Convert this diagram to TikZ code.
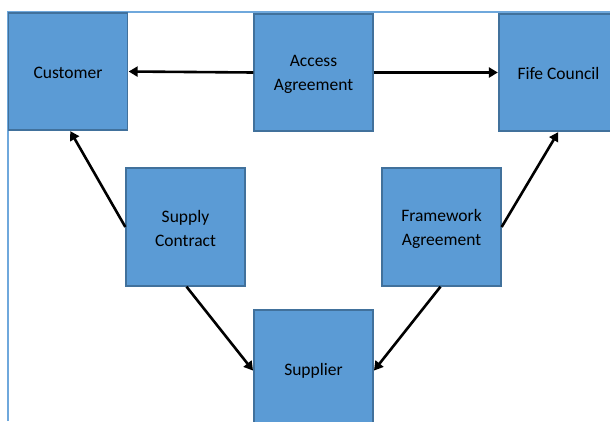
\documentclass[tikz,border=0pt]{standalone}
\usepackage{fontspec}
\setmainfont{Carlito}
\usetikzlibrary{arrows.meta}
\definecolor{boxfill}{HTML}{5B9BD5}
\definecolor{boxline}{HTML}{41719C}
\definecolor{frameline}{HTML}{6FA8DC}
\newcommand{\topstrut}{\rule{0pt}{15pt}}
\tikzset{
  blk/.style={draw=boxline, line width=1.3pt, fill=boxfill, inner sep=0pt,
    minimum width=119pt, minimum height=117pt, align=center,
    font=\fontsize{17.5pt}{24pt}\selectfont, text=black},
  link/.style={line width=2.6pt, -{Triangle[length=9pt,width=10pt]}, shorten >=0.5pt}
}
\begin{document}
\begin{tikzpicture}[x=1pt,y=-1pt]
\useasboundingbox (0,0) rectangle (610,421);
\draw[frameline, line width=2pt] (7.5,421) -- (7.5,12) -- (612,12);
\node[blk] (cust) at (68,71.5) {\topstrut Customer};
\node[blk] (acc) at (313.5,72.5) {\topstrut Access\\Agreement};
\node[blk] (fife) at (558.5,72.5) {\topstrut Fife Council};
\node[blk, minimum height=118pt] (supc) at (185.5,227) {\topstrut Supply\\Contract};
\node[blk, minimum height=118pt] (fw) at (441.5,227) {\topstrut Framework\\Agreement};
\node[blk, minimum height=118pt] (supp) at (313.5,369) {\topstrut Supplier};
\draw[link] (acc.west) -- (cust.east);
\draw[link] (acc.east) -- (fife.west);
\draw[link] (supc.west) -- ([xshift=2pt]cust.south);
\draw[link] (fw.east) -- (fife.south);
\draw[link] ([xshift=1pt]supc.south) -- ([yshift=-2pt]supp.west);
\draw[link] ([xshift=-1pt]fw.south) -- ([yshift=-2pt]supp.east);
\end{tikzpicture}
\end{document}
